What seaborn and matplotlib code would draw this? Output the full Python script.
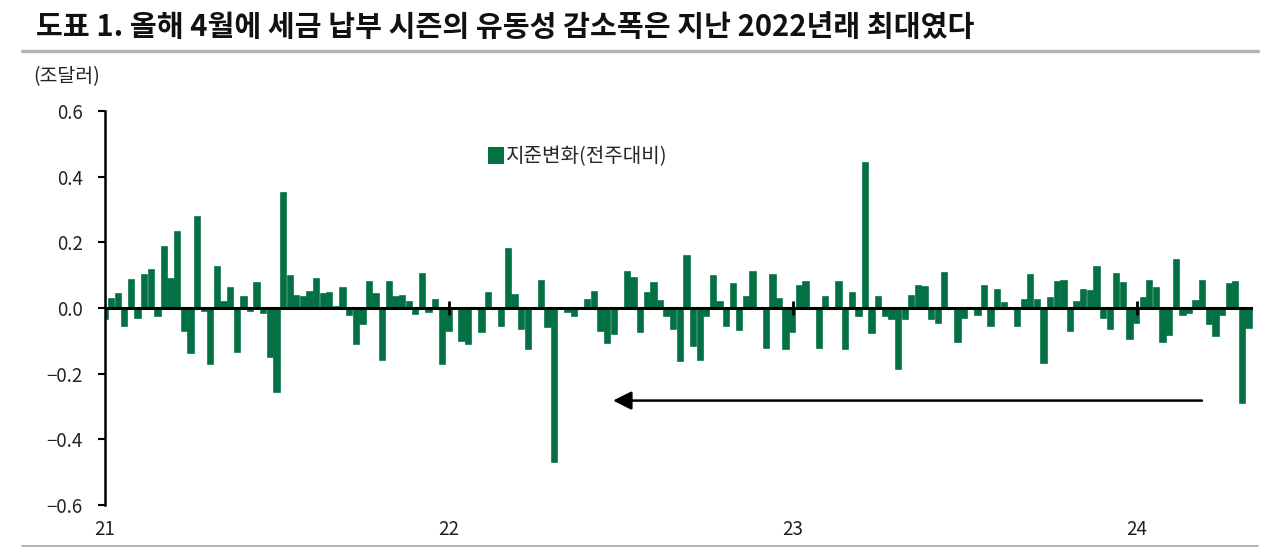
import numpy as np
import pandas as pd
import matplotlib
matplotlib.use("Agg")
import matplotlib.pyplot as plt
from matplotlib.lines import Line2D
from matplotlib.patches import Patch
import seaborn as sns

# weekly change in reserves (trillion USD), first week of 2021 to end of April 2024
start_date = "2021-01-06"
chg_2021 = [-0.035, 0.027, 0.043, -0.055, 0.084, -0.030, 0.100, 0.116, -0.025, 0.187,
            0.088, 0.232, -0.070, -0.138, 0.276, -0.010, -0.170, 0.126, 0.017, 0.060,
            -0.134, 0.035, -0.010, 0.076, -0.015, -0.150, -0.257, 0.349, 0.096, 0.038,
            0.035, 0.050, 0.088, 0.043, 0.047, 0.003, 0.060, -0.020, -0.110, -0.048,
            0.079, 0.043, -0.157, 0.079, 0.035, 0.037, 0.017, -0.018, 0.103, -0.012,
            0.025, -0.170]
chg_2022 = [-0.070, 0.000, -0.100, -0.110, 0.000, -0.073, 0.045, 0.000, -0.055, 0.180,
            0.040, -0.065, -0.125, 0.000, 0.083, -0.059, -0.468, 0.000, -0.013, -0.023,
            0.000, 0.024, 0.050, -0.069, -0.106, -0.079, 0.000, 0.111, 0.090, -0.074,
            0.047, 0.076, 0.022, -0.023, -0.064, -0.160, 0.159, -0.116, -0.157, -0.025,
            0.098, 0.017, -0.054, 0.073, -0.066, 0.032, 0.111, 0.000, -0.121, 0.101,
            0.028, -0.126]
chg_2023 = [-0.074, 0.066, 0.079, 0.000, -0.123, 0.035, 0.000, 0.079, -0.126, 0.047,
            -0.025, 0.441, -0.076, 0.035, -0.023, -0.035, -0.185, -0.035, 0.038, 0.066,
            0.063, -0.035, -0.047, 0.106, 0.000, -0.104, -0.030, 0.000, -0.020, 0.066,
            -0.056, 0.056, 0.015, 0.000, -0.054, 0.025, 0.101, 0.025, -0.167, 0.030,
            0.078, 0.081, -0.071, 0.017, 0.056, 0.053, 0.126, -0.030, -0.064, 0.104,
            0.076, -0.094]
chg_2024 = [-0.045, 0.030, 0.081, 0.061, -0.104, -0.081, 0.146, -0.020, -0.015, 0.020,
            0.083, -0.050, -0.086, -0.022, 0.073, 0.079, -0.288, -0.060]
values = chg_2021 + chg_2022 + chg_2023 + chg_2024

year_labels = ["21", "22", "23", "24"]
y_ticks = [-0.6, -0.4, -0.2, 0.0, 0.2, 0.4, 0.6]
y_labels = ["\u22120.6", "\u22120.4", "\u22120.2", "0.0", "0.2", "0.4", "0.6"]

title = "도표 1. 올해 4월에 세금 납부 시즌의 유동성 감소폭은 지난 2022년래 최대였다"
unit = "(조달러)"
legend_label = "지준변화(전주대비)"

GREEN = "#047144"

dates = pd.date_range(start_date, periods=len(values), freq="7D")
df = pd.DataFrame({"week": np.arange(len(values)), "chg": values, "date": dates})
year_pos = [df.index[df["date"].dt.year == 2000 + int(y)][0] for y in year_labels]

sns.set_style("white")
plt.rcParams["font.family"] = ["Noto Sans CJK KR", "DejaVu Sans"]
plt.rcParams["axes.unicode_minus"] = True

fig = plt.figure(figsize=(12.84, 5.47), dpi=100)
ax = fig.add_axes([105 / 1284, 1 - 505 / 547, 1148 / 1284, 394 / 547])

sns.barplot(data=df, x="week", y="chg", native_scale=True, color=GREEN,
            saturation=1, width=0.8, edgecolor=GREEN, linewidth=1.2, ax=ax)

ax.set_xlim(0, 173.6)
ax.set_ylim(-0.6, 0.6)
ax.axhline(0, color="black", lw=2.2, zorder=3)
ax.vlines(year_pos[1:], -0.02, 0.02, color="black", lw=2, zorder=4)

for s in ["top", "right", "bottom"]:
    ax.spines[s].set_visible(False)
ax.spines["left"].set_color("black")
ax.spines["left"].set_linewidth(1.8)

ax.set_yticks(y_ticks)
ax.set_yticklabels(y_labels, fontsize=13.5, color="#222222")
ax.tick_params(axis="y", direction="out", length=5, width=1.5, color="black", pad=11, left=True)
ax.set_xticks(year_pos)
ax.set_xticklabels(year_labels, fontsize=13.5, color="#222222")
ax.tick_params(axis="x", length=0, pad=10)
ax.set_xlabel("")
ax.set_ylabel("")
ax.grid(False)

handle = Patch(facecolor=GREEN, edgecolor="none")
ax.legend([handle], [legend_label], loc="center left", bbox_to_anchor=(0.327, 0.883),
          frameon=False, fontsize=14.5, handlelength=0.75, handleheight=0.95,
          handletextpad=0.12, borderaxespad=0)

# arrow pointing back to the 2022 drop
ax.annotate("", xy=(76.4, -0.282), xytext=(166.3, -0.282),
            arrowprops=dict(arrowstyle="-|>", color="black", lw=1.8, mutation_scale=28),
            zorder=5)

fig.text(36 / 1284, 1 - 27 / 547, title, fontsize=21, fontweight="bold",
         ha="left", va="center", color="#111111")
fig.text(33 / 1284, 1 - 77 / 547, unit, fontsize=14, ha="left", va="center", color="#222222")
fig.add_artist(Line2D([22 / 1284, 1258 / 1284], [1 - 51 / 547] * 2, color="#b5b5b5", lw=2.5))
fig.add_artist(Line2D([22 / 1284, 1258 / 1284], [1 - 545.5 / 547] * 2, color="#b5b5b5", lw=1.5))

fig.savefig("out.png", dpi=100)
